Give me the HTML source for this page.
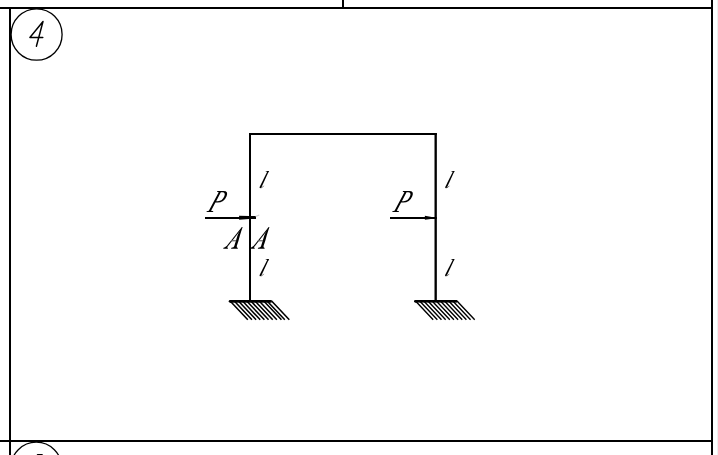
<!DOCTYPE html>
<html><head><meta charset="utf-8">
<style>
html,body{margin:0;padding:0;background:#fff;width:718px;height:455px;overflow:hidden;}
svg{display:block;position:absolute;left:0;top:0;}
</style></head>
<body>
<svg width="718" height="455" viewBox="0 0 718 455">
<rect x="717" y="0" width="1" height="455" fill="#f0f0f0"/>
<!-- labels -->
<g fill="#000">
<path vector-effect="non-scaling-stroke" transform="matrix(0.0115 0 0.0063 -0.01581 206.5 212.1)" d="M612 690Q1000 690 1000 1000Q1000 1116 927.5 1183.5Q855 1251 709 1251H561L462 690ZM446 600 354 80 573 53 563 0H-11L-1 53L161 80L370 1262L202 1288L212 1341H749Q965 1341 1082.0 1251.5Q1199 1162 1199 1000Q1199 800 1052.5 700Q906 600 634 600Z"/>
<path vector-effect="non-scaling-stroke" transform="matrix(0.0115 0 0.0063 -0.01581 392.2 212.1)" d="M612 690Q1000 690 1000 1000Q1000 1116 927.5 1183.5Q855 1251 709 1251H561L462 690ZM446 600 354 80 573 53 563 0H-11L-1 53L161 80L370 1262L202 1288L212 1341H749Q965 1341 1082.0 1251.5Q1199 1162 1199 1000Q1199 800 1052.5 700Q906 600 634 600Z"/>
</g>
<g id="glA"><path d="M242.6 227.0 L241.0 232 L239.9 235.5 L238.5 240.8 L236.75 246.1 L236.4 247.9 L234.2 247.9 L234.3 246.1 L235.9 240.8 L237.5 235.5 L239.0 232 L241.7 227.5 Z" fill="#000"/><path d="M242.1 227.5 L226.5 247.2" stroke="#000" stroke-width="1.05" fill="none"/><path d="M223.2 248.85 L228 248.85 L227.7 247.8 Q226.9 247.5 227.1 246.3 L225.9 246.6 Q225.1 247.6 223.5 247.8 Z" fill="#000"/><path d="M231 248.85 L237.9 248.85 L237.6 247.8 Q236.3 247.5 236.4 246.2 L234.2 246.2 Q234.0 247.5 231.4 247.8 Z" fill="#000"/><path d="M231.0 240.75 H236.2" stroke="#666" stroke-width="1.2" fill="none"/></g>
<use href="#glA" x="26.8" y="0"/>
<g fill="none" stroke="#000"><g id="ell"><path d="M265.2 171.1 L266.5 170.95 L269.1 170.95 L268.5 172.3 L266.8 171.75 Z" fill="#000" stroke="none"/><path d="M267.3 171.6 L268.7 171.6 L261.5 187.2 Q260.95 188.3 259.95 188.1 Q259.35 187.8 259.65 187.0 Z" fill="#000" stroke="none"/><path d="M261.0 187.85 Q262.4 187.8 263.7 185.8" stroke-width="0.8" stroke="#555"/></g>
<use href="#ell" x="0" y="88.1"/>
<use href="#ell" x="185.6" y="0"/>
<use href="#ell" x="185.5" y="88.1"/></g>
<!-- table grid -->
<rect x="0" y="7" width="713" height="2" fill="#000"/>
<rect x="0" y="440" width="713" height="2" fill="#000"/>
<rect x="9" y="7" width="2" height="448" fill="#000"/>
<rect x="711" y="0" width="2" height="455" fill="#000"/>
<rect x="342" y="0" width="2" height="8" fill="#000"/>
<!-- number circle -->
<ellipse cx="36.6" cy="34.5" rx="25.5" ry="25.7" fill="none" stroke="#000" stroke-width="1.3"/>
<path d="M43.0 21.5 L29.9 37.55 L42.8 37.55 M43.0 21.5 L36.4 46.2" fill="none" stroke="#000" stroke-width="1.45" stroke-linecap="round" stroke-linejoin="round"/>
<ellipse cx="36.3" cy="467.9" rx="25.5" ry="25.7" fill="none" stroke="#000" stroke-width="1.3"/>
<path d="M36.6 455 L37.4 454 H42.2 L43.2 455 Z" fill="#000"/>
<!-- frame -->
<rect x="249" y="133" width="187.8" height="2" fill="#000"/>
<rect x="249" y="133" width="2" height="168" fill="#000"/>
<rect x="434.5" y="133" width="2.35" height="168" fill="#000"/>
<!-- supports -->
<rect x="230" y="300" width="41.6" height="2.7" fill="#000"/><circle cx="230.1" cy="301.35" r="1.35" fill="#000"/>
<rect x="415.2" y="300" width="41.8" height="2.6" fill="#000"/><circle cx="415.3" cy="301.3" r="1.3" fill="#000"/>
<g stroke="#000" stroke-width="1.55" fill="none">
<path d="M229.87 300.8 L247.80 319.8 M234.02 300.8 L251.95 319.8 M238.17 300.8 L256.10 319.8 M242.32 300.8 L260.25 319.8 M246.47 300.8 L264.40 319.8 M250.62 300.8 L268.55 319.8 M254.77 300.8 L272.70 319.8 M258.92 300.8 L276.85 319.8 M263.52 300.8 L281.45 319.8 M266.87 300.8 L284.80 319.8 M271.37 300.8 L289.30 319.8"/>
<path stroke-width="1.4" d="M415.27 300.8 L433.20 319.8 M419.42 300.8 L437.35 319.8 M423.57 300.8 L441.50 319.8 M427.72 300.8 L445.65 319.8 M431.87 300.8 L449.80 319.8 M436.02 300.8 L453.95 319.8 M440.17 300.8 L458.10 319.8 M444.32 300.8 L462.25 319.8 M448.47 300.8 L466.40 319.8 M452.62 300.8 L470.55 319.8 M456.77 300.8 L474.70 319.8"/>
</g>
<!-- loads -->
<rect x="205" y="217" width="44" height="2" fill="#000"/>
<path d="M239.1 215.7 L249 216.0 L256 216.1 L256 219.1 L249 219.1 L239.1 219.8 Z" fill="#000"/>
<path d="M255.6 216.6 L259.3 215.1" stroke="#ccc" stroke-width="1.1" fill="none"/>
<rect x="390" y="217" width="46.8" height="2" fill="#000"/>
<path d="M424.9 215.8 L434.5 217.6 L434.5 218.4 L424.9 219.8 Z" fill="#000"/>
</svg>
</body></html>
